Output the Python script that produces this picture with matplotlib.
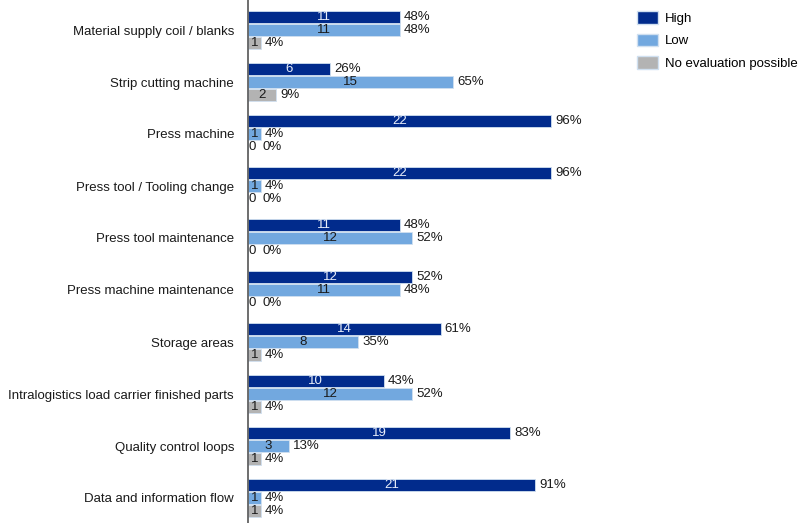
import numpy as np
import matplotlib.pyplot as plt
from matplotlib.patches import Patch

categories = ["Material supply coil / blanks", "Strip cutting machine", "Press machine",
              "Press tool / Tooling change", "Press tool maintenance", "Press machine maintenance",
              "Storage areas", "Intralogistics load carrier finished parts",
              "Quality control loops", "Data and information flow"]
high = [11, 6, 22, 22, 11, 12, 14, 10, 19, 21]
low = [11, 15, 1, 1, 12, 11, 8, 12, 3, 1]
none_ = [1, 2, 0, 0, 0, 0, 1, 1, 1, 1]
high_pct = [48, 26, 96, 96, 48, 52, 61, 43, 83, 91]
low_pct = [48, 65, 4, 4, 52, 48, 35, 52, 13, 4]
none_pct = [4, 9, 0, 0, 0, 0, 4, 4, 4, 4]

plt.rcParams['font.family'] = ['Liberation Sans', 'DejaVu Sans']

W, H = 799, 523
fig = plt.figure(figsize=(W / 100, H / 100), dpi=100)
ax_left, ax_right = 248, 640
ax = fig.add_axes([ax_left / W, 0, (ax_right - ax_left) / W, 1])

px_per_pct = 303 / 96
ax.set_xlim(0, (ax_right - ax_left) / px_per_pct)
gap, first = 52, 30
ax.set_ylim((H - first) / gap, -first / gap)

fs = 9.5
h = 13 / gap
y = np.arange(len(categories))
series = [(high, high_pct, "#012B8C", "#e8eefa", -1),
          (low, low_pct, "#72A8DF", "#1a1a1a", 0),
          (none_, none_pct, "#B3B3B3", "#1a1a1a", 1)]
for counts, pcts, col, tcol, off in series:
    yy = y + off * h
    ax.barh(yy, pcts, height=h * 0.96, color=col, edgecolor="#d0e0f0", linewidth=0.6)
    for yi, c, p in zip(yy, counts, pcts):
        ax.text(max(p / 2, 1.3), yi, str(c), ha="center", va="center",
                color=tcol, fontsize=fs)
        ax.text(max(p, 3.2) + 1.3, yi, f"{p}%", ha="left", va="center",
                color="#1a1a1a", fontsize=fs)

ax.set_yticks(y)
ax.set_yticklabels(categories, fontsize=fs, color="#1a1a1a")
ax.tick_params(axis="y", length=0, pad=10)
ax.set_xticks([])
for s in ["top", "right", "bottom"]:
    ax.spines[s].set_visible(False)
ax.spines["left"].set_color("#555555")
ax.spines["left"].set_linewidth(1.2)

handles = [Patch(facecolor=c, edgecolor="#d0e0f0") for c in ["#012B8C", "#72A8DF", "#B3B3B3"]]
fig.legend(handles, ["High", "Low", "No evaluation possible"], loc="upper left",
           bbox_to_anchor=(628 / W, 1 - 2 / H), frameon=False, fontsize=fs,
           handlelength=1.6, handleheight=1.1, labelspacing=0.65, handletextpad=0.5,
           borderaxespad=0.3)

fig.savefig("out.png", dpi=100)
